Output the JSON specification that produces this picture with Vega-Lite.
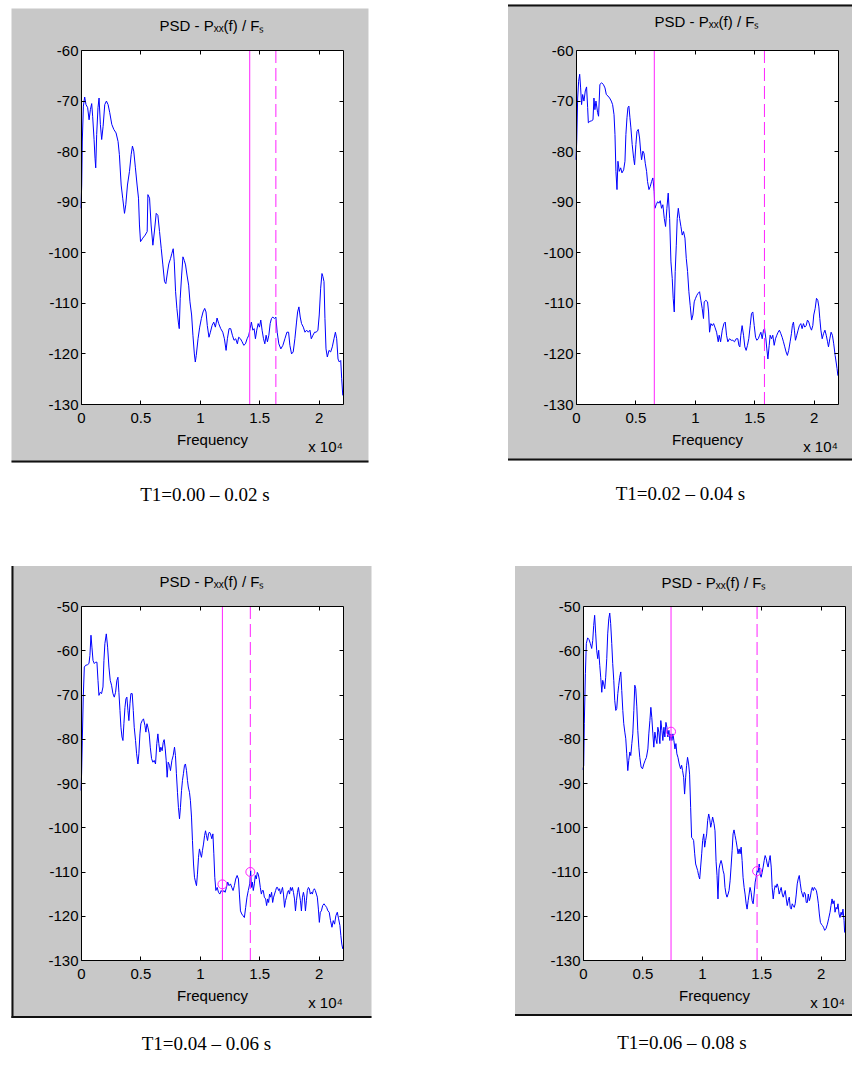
{
  "$schema": "https://vega.github.io/schema/vega-lite/v6.json",
  "background": "white",
  "padding": {"left": 10, "top": 4, "right": 0, "bottom": 0},
  "config": {
    "view": {"stroke": null},
    "axis": {"grid": false, "domainColor": "#000000", "domainWidth": 1, "tickColor": "#000000", "tickWidth": 1, "tickSize": -4, "labelFont": "Liberation Sans", "labelFontSize": 15, "labelColor": "#000000", "labelFlush": false, "labelOverlap": false, "titleFont": "Liberation Sans", "titleFontSize": 15, "titleFontWeight": "normal", "titleColor": "#000000", "zindex": 1},
    "axisBottom": {"labelPadding": 10, "titlePadding": 7},
    "axisLeft": {"labelPadding": 7}
  },
  "datasets": {
    "p1": [
      {"f":0,"v":-91.3},{"f":0.006,"v":-86.7},{"f":0.011,"v":-78},{"f":0.02,"v":-71.1},{"f":0.031,"v":-69.3},{"f":0.042,"v":-70.8},{"f":0.056,"v":-71.4},{"f":0.068,"v":-73.8},{"f":0.079,"v":-71.8},{"f":0.09,"v":-70.6},{"f":0.098,"v":-73.1},{"f":0.11,"v":-77.7},{"f":0.118,"v":-81.4},{"f":0.124,"v":-83.3},{"f":0.132,"v":-76.7},{"f":0.143,"v":-71.4},{"f":0.152,"v":-69.5},{"f":0.163,"v":-74.7},{"f":0.174,"v":-77.7},{"f":0.186,"v":-75.1},{"f":0.2,"v":-70.8},{"f":0.214,"v":-70.1},{"f":0.228,"v":-70.8},{"f":0.242,"v":-72.4},{"f":0.259,"v":-74.7},{"f":0.276,"v":-75.7},{"f":0.295,"v":-76.4},{"f":0.312,"v":-78.1},{"f":0.323,"v":-80.7},{"f":0.338,"v":-86.7},{"f":0.351,"v":-89.3},{"f":0.366,"v":-92.3},{"f":0.377,"v":-90.6},{"f":0.391,"v":-86.7},{"f":0.408,"v":-84},{"f":0.422,"v":-80.7},{"f":0.433,"v":-79},{"f":0.444,"v":-80},{"f":0.458,"v":-83.3},{"f":0.472,"v":-86.7},{"f":0.484,"v":-89.3},{"f":0.492,"v":-94.6},{"f":0.501,"v":-97.9},{"f":0.52,"v":-97.2},{"f":0.54,"v":-96.6},{"f":0.557,"v":-95.9},{"f":0.563,"v":-88.6},{"f":0.577,"v":-89.3},{"f":0.59,"v":-94.6},{"f":0.605,"v":-98.6},{"f":0.619,"v":-95.6},{"f":0.633,"v":-92.3},{"f":0.647,"v":-92.7},{"f":0.661,"v":-95.9},{"f":0.675,"v":-99.2},{"f":0.689,"v":-102.5},{"f":0.703,"v":-105.8},{"f":0.714,"v":-106.2},{"f":0.728,"v":-103.9},{"f":0.739,"v":-102.3},{"f":0.754,"v":-101.2},{"f":0.765,"v":-100.2},{"f":0.776,"v":-99.3},{"f":0.785,"v":-101.9},{"f":0.796,"v":-107.8},{"f":0.807,"v":-111.1},{"f":0.819,"v":-113.8},{"f":0.827,"v":-115.1},{"f":0.835,"v":-109.1},{"f":0.847,"v":-104.5},{"f":0.858,"v":-100.9},{"f":0.869,"v":-101.6},{"f":0.88,"v":-102.5},{"f":0.892,"v":-104.5},{"f":0.906,"v":-106.5},{"f":0.917,"v":-109.8},{"f":0.931,"v":-112.4},{"f":0.942,"v":-116.4},{"f":0.954,"v":-120.1},{"f":0.962,"v":-121.7},{"f":0.97,"v":-120.4},{"f":0.985,"v":-117.1},{"f":0.999,"v":-114.8},{"f":1.013,"v":-113.1},{"f":1.027,"v":-111.8},{"f":1.041,"v":-111.1},{"f":1.052,"v":-111.8},{"f":1.063,"v":-114.5},{"f":1.077,"v":-116.8},{"f":1.089,"v":-115.8},{"f":1.103,"v":-114.5},{"f":1.117,"v":-113.8},{"f":1.131,"v":-114.8},{"f":1.145,"v":-113},{"f":1.159,"v":-114.1},{"f":1.176,"v":-115.1},{"f":1.193,"v":-115.8},{"f":1.207,"v":-117.1},{"f":1.221,"v":-119.4},{"f":1.232,"v":-117.1},{"f":1.246,"v":-115.1},{"f":1.26,"v":-115.1},{"f":1.274,"v":-116.4},{"f":1.288,"v":-117.4},{"f":1.302,"v":-117.1},{"f":1.316,"v":-118.1},{"f":1.327,"v":-116.8},{"f":1.342,"v":-117.1},{"f":1.356,"v":-117.7},{"f":1.37,"v":-118.4},{"f":1.384,"v":-118.1},{"f":1.398,"v":-117.1},{"f":1.412,"v":-116.4},{"f":1.423,"v":-115.1},{"f":1.434,"v":-113.8},{"f":1.446,"v":-115.4},{"f":1.457,"v":-115.1},{"f":1.468,"v":-117.1},{"f":1.479,"v":-115.4},{"f":1.491,"v":-114.1},{"f":1.502,"v":-114.8},{"f":1.513,"v":-113.4},{"f":1.524,"v":-115.4},{"f":1.536,"v":-117.1},{"f":1.547,"v":-118.1},{"f":1.558,"v":-116.4},{"f":1.569,"v":-117.7},{"f":1.581,"v":-116.4},{"f":1.592,"v":-114.1},{"f":1.603,"v":-113.1},{"f":1.614,"v":-112.8},{"f":1.628,"v":-113.1},{"f":1.64,"v":-112.8},{"f":1.651,"v":-115.8},{"f":1.665,"v":-118.1},{"f":1.682,"v":-119.1},{"f":1.699,"v":-118.4},{"f":1.716,"v":-117.1},{"f":1.733,"v":-115.8},{"f":1.747,"v":-115.8},{"f":1.758,"v":-118.4},{"f":1.772,"v":-120.1},{"f":1.786,"v":-119.7},{"f":1.8,"v":-117.1},{"f":1.814,"v":-113.8},{"f":1.823,"v":-111.8},{"f":1.834,"v":-110.8},{"f":1.845,"v":-112.8},{"f":1.856,"v":-114.1},{"f":1.871,"v":-114.8},{"f":1.885,"v":-115.8},{"f":1.899,"v":-115.4},{"f":1.913,"v":-115.8},{"f":1.927,"v":-115.4},{"f":1.938,"v":-117.1},{"f":1.952,"v":-116.4},{"f":1.966,"v":-115.8},{"f":1.98,"v":-115.8},{"f":1.994,"v":-115.4},{"f":2.005,"v":-112.4},{"f":2.017,"v":-107.1},{"f":2.028,"v":-104.2},{"f":2.036,"v":-104.8},{"f":2.045,"v":-105.8},{"f":2.053,"v":-113.1},{"f":2.062,"v":-119.1},{"f":2.073,"v":-120.7},{"f":2.087,"v":-119.4},{"f":2.101,"v":-119.7},{"f":2.115,"v":-118.7},{"f":2.129,"v":-117.1},{"f":2.141,"v":-115.8},{"f":2.152,"v":-117.1},{"f":2.163,"v":-121.1},{"f":2.174,"v":-121.7},{"f":2.186,"v":-121.4},{"f":2.194,"v":-125},{"f":2.203,"v":-128.3}
    ],
    "p2": [
      {"f":0,"v":-81.7},{"f":0.006,"v":-78.1},{"f":0.014,"v":-69.5},{"f":0.022,"v":-66.2},{"f":0.031,"v":-64.8},{"f":0.039,"v":-67.5},{"f":0.047,"v":-70.8},{"f":0.056,"v":-68.8},{"f":0.067,"v":-70.1},{"f":0.078,"v":-68.1},{"f":0.089,"v":-67.3},{"f":0.098,"v":-71.4},{"f":0.104,"v":-74.4},{"f":0.117,"v":-74.1},{"f":0.131,"v":-74},{"f":0.143,"v":-73.8},{"f":0.151,"v":-69.5},{"f":0.159,"v":-71.8},{"f":0.168,"v":-70.1},{"f":0.182,"v":-72.4},{"f":0.19,"v":-73.1},{"f":0.201,"v":-66.8},{"f":0.216,"v":-66.5},{"f":0.23,"v":-66.8},{"f":0.244,"v":-67.5},{"f":0.255,"v":-68.8},{"f":0.269,"v":-69.1},{"f":0.283,"v":-69.5},{"f":0.297,"v":-70.1},{"f":0.308,"v":-70.8},{"f":0.32,"v":-72.8},{"f":0.328,"v":-76.7},{"f":0.336,"v":-84},{"f":0.345,"v":-87.6},{"f":0.353,"v":-82},{"f":0.364,"v":-84},{"f":0.376,"v":-83.3},{"f":0.387,"v":-84.3},{"f":0.401,"v":-83.7},{"f":0.412,"v":-82},{"f":0.42,"v":-76.7},{"f":0.429,"v":-73.4},{"f":0.437,"v":-71.4},{"f":0.445,"v":-71.1},{"f":0.454,"v":-73.4},{"f":0.462,"v":-75.4},{"f":0.473,"v":-78.7},{"f":0.485,"v":-81.4},{"f":0.493,"v":-82.7},{"f":0.504,"v":-78.7},{"f":0.513,"v":-76.1},{"f":0.524,"v":-75.7},{"f":0.535,"v":-77.4},{"f":0.544,"v":-80},{"f":0.552,"v":-81.7},{"f":0.563,"v":-80},{"f":0.572,"v":-80.4},{"f":0.583,"v":-82.4},{"f":0.594,"v":-84},{"f":0.602,"v":-86},{"f":0.614,"v":-87.6},{"f":0.625,"v":-87},{"f":0.636,"v":-86},{"f":0.647,"v":-85.3},{"f":0.658,"v":-88},{"f":0.664,"v":-91.3},{"f":0.675,"v":-90.6},{"f":0.687,"v":-90},{"f":0.698,"v":-90.3},{"f":0.709,"v":-89.8},{"f":0.72,"v":-91.3},{"f":0.731,"v":-90.6},{"f":0.743,"v":-93.3},{"f":0.754,"v":-94.9},{"f":0.765,"v":-91.3},{"f":0.776,"v":-88.3},{"f":0.788,"v":-93.3},{"f":0.799,"v":-101.9},{"f":0.81,"v":-105.2},{"f":0.818,"v":-109.1},{"f":0.827,"v":-111.8},{"f":0.835,"v":-103.8},{"f":0.844,"v":-98.6},{"f":0.852,"v":-93.3},{"f":0.861,"v":-91.3},{"f":0.872,"v":-93.3},{"f":0.883,"v":-94.9},{"f":0.894,"v":-96.6},{"f":0.905,"v":-95.9},{"f":0.917,"v":-97.2},{"f":0.928,"v":-101.2},{"f":0.939,"v":-103.8},{"f":0.95,"v":-107.8},{"f":0.961,"v":-110.5},{"f":0.973,"v":-113.4},{"f":0.984,"v":-112.4},{"f":0.995,"v":-109.8},{"f":1.006,"v":-109.1},{"f":1.017,"v":-108.5},{"f":1.028,"v":-108.1},{"f":1.04,"v":-107.8},{"f":1.051,"v":-109.5},{"f":1.062,"v":-111.1},{"f":1.073,"v":-113.1},{"f":1.079,"v":-109.8},{"f":1.093,"v":-109.5},{"f":1.107,"v":-109.8},{"f":1.116,"v":-111.8},{"f":1.124,"v":-115.8},{"f":1.135,"v":-114.1},{"f":1.147,"v":-114.5},{"f":1.158,"v":-114.1},{"f":1.169,"v":-114.8},{"f":1.183,"v":-115.8},{"f":1.197,"v":-117.7},{"f":1.205,"v":-116.4},{"f":1.217,"v":-117.7},{"f":1.231,"v":-115.4},{"f":1.245,"v":-114.1},{"f":1.256,"v":-113.8},{"f":1.267,"v":-116.4},{"f":1.278,"v":-117.7},{"f":1.292,"v":-117.1},{"f":1.306,"v":-117.4},{"f":1.32,"v":-117.4},{"f":1.334,"v":-117.7},{"f":1.348,"v":-117.1},{"f":1.362,"v":-117.1},{"f":1.371,"v":-118.4},{"f":1.379,"v":-118.7},{"f":1.387,"v":-116.4},{"f":1.398,"v":-114.5},{"f":1.41,"v":-116.4},{"f":1.421,"v":-118.7},{"f":1.432,"v":-119.4},{"f":1.443,"v":-118.4},{"f":1.454,"v":-117.1},{"f":1.466,"v":-114.5},{"f":1.477,"v":-112.1},{"f":1.488,"v":-111.8},{"f":1.5,"v":-114.5},{"f":1.511,"v":-116.8},{"f":1.522,"v":-117.4},{"f":1.534,"v":-117.1},{"f":1.545,"v":-116.4},{"f":1.556,"v":-115.8},{"f":1.567,"v":-117.1},{"f":1.578,"v":-115.4},{"f":1.587,"v":-115.1},{"f":1.598,"v":-117.1},{"f":1.606,"v":-119.1},{"f":1.615,"v":-121.1},{"f":1.626,"v":-118.4},{"f":1.634,"v":-116.4},{"f":1.645,"v":-117.1},{"f":1.656,"v":-116.4},{"f":1.668,"v":-118.4},{"f":1.679,"v":-117.1},{"f":1.69,"v":-116.4},{"f":1.701,"v":-115.8},{"f":1.712,"v":-115.4},{"f":1.724,"v":-116.1},{"f":1.735,"v":-116.8},{"f":1.746,"v":-117.7},{"f":1.757,"v":-118.7},{"f":1.768,"v":-119.7},{"f":1.779,"v":-120.4},{"f":1.79,"v":-119.4},{"f":1.802,"v":-117.7},{"f":1.813,"v":-116.1},{"f":1.821,"v":-114.5},{"f":1.83,"v":-113.8},{"f":1.838,"v":-115.4},{"f":1.847,"v":-117.4},{"f":1.858,"v":-116.4},{"f":1.869,"v":-115.4},{"f":1.88,"v":-114.5},{"f":1.892,"v":-114.1},{"f":1.903,"v":-115.1},{"f":1.914,"v":-114.1},{"f":1.925,"v":-114.8},{"f":1.937,"v":-114.5},{"f":1.948,"v":-113.4},{"f":1.959,"v":-113.8},{"f":1.971,"v":-114.8},{"f":1.982,"v":-115.4},{"f":1.993,"v":-114.5},{"f":2.001,"v":-112.4},{"f":2.013,"v":-111.1},{"f":2.024,"v":-109.1},{"f":2.035,"v":-109.5},{"f":2.044,"v":-110.8},{"f":2.052,"v":-113.1},{"f":2.061,"v":-115.4},{"f":2.072,"v":-117.1},{"f":2.083,"v":-116.1},{"f":2.095,"v":-115.4},{"f":2.106,"v":-116.4},{"f":2.117,"v":-117.7},{"f":2.125,"v":-118.7},{"f":2.136,"v":-117.1},{"f":2.147,"v":-115.8},{"f":2.158,"v":-116.4},{"f":2.169,"v":-118.1},{"f":2.181,"v":-120.4},{"f":2.189,"v":-121.7},{"f":2.197,"v":-123},{"f":2.204,"v":-124.4}
    ],
    "p3": [
      {"f":0,"v":-91.7},{"f":0.005,"v":-87.9},{"f":0.011,"v":-80.4},{"f":0.019,"v":-70.6},{"f":0.028,"v":-63.8},{"f":0.039,"v":-63.4},{"f":0.053,"v":-63.3},{"f":0.067,"v":-63},{"f":0.075,"v":-61.2},{"f":0.084,"v":-56.6},{"f":0.092,"v":-59.3},{"f":0.101,"v":-62.3},{"f":0.112,"v":-63},{"f":0.123,"v":-62.7},{"f":0.134,"v":-62.7},{"f":0.143,"v":-66.8},{"f":0.151,"v":-70.2},{"f":0.162,"v":-69.5},{"f":0.173,"v":-69.8},{"f":0.185,"v":-68.3},{"f":0.193,"v":-62.3},{"f":0.201,"v":-58.5},{"f":0.213,"v":-56.3},{"f":0.224,"v":-59.3},{"f":0.235,"v":-63.8},{"f":0.246,"v":-66.8},{"f":0.257,"v":-67.9},{"f":0.269,"v":-69.8},{"f":0.28,"v":-70.6},{"f":0.291,"v":-69.5},{"f":0.302,"v":-66.8},{"f":0.311,"v":-66.1},{"f":0.319,"v":-69.5},{"f":0.328,"v":-73.6},{"f":0.336,"v":-77.4},{"f":0.345,"v":-79.6},{"f":0.353,"v":-80.4},{"f":0.361,"v":-76.6},{"f":0.37,"v":-72.9},{"f":0.378,"v":-71},{"f":0.386,"v":-70.6},{"f":0.395,"v":-73.6},{"f":0.403,"v":-75.9},{"f":0.412,"v":-72.1},{"f":0.42,"v":-69.8},{"f":0.431,"v":-69.8},{"f":0.44,"v":-73.6},{"f":0.448,"v":-77.4},{"f":0.459,"v":-80.4},{"f":0.468,"v":-83.4},{"f":0.479,"v":-85.7},{"f":0.487,"v":-83.4},{"f":0.496,"v":-78.9},{"f":0.504,"v":-76.6},{"f":0.515,"v":-75.9},{"f":0.526,"v":-75.5},{"f":0.538,"v":-77},{"f":0.546,"v":-78.5},{"f":0.555,"v":-76.6},{"f":0.563,"v":-77.4},{"f":0.574,"v":-78.9},{"f":0.583,"v":-81.9},{"f":0.594,"v":-84.5},{"f":0.605,"v":-85.3},{"f":0.616,"v":-84.9},{"f":0.627,"v":-85.7},{"f":0.638,"v":-81.1},{"f":0.647,"v":-78.9},{"f":0.655,"v":-81.1},{"f":0.664,"v":-83},{"f":0.672,"v":-81.9},{"f":0.683,"v":-82.7},{"f":0.692,"v":-80.8},{"f":0.7,"v":-80.2},{"f":0.709,"v":-82.3},{"f":0.717,"v":-84.9},{"f":0.725,"v":-88.7},{"f":0.734,"v":-85.3},{"f":0.745,"v":-86},{"f":0.753,"v":-87.2},{"f":0.765,"v":-84.9},{"f":0.776,"v":-83.8},{"f":0.787,"v":-81.9},{"f":0.795,"v":-83.8},{"f":0.803,"v":-87.9},{"f":0.812,"v":-92.1},{"f":0.82,"v":-95.5},{"f":0.829,"v":-98.1},{"f":0.837,"v":-95.5},{"f":0.846,"v":-91.7},{"f":0.854,"v":-89.4},{"f":0.862,"v":-87.9},{"f":0.871,"v":-86},{"f":0.879,"v":-85.7},{"f":0.888,"v":-87.2},{"f":0.896,"v":-89.4},{"f":0.903,"v":-90.9},{"f":0.913,"v":-92.1},{"f":0.921,"v":-94},{"f":0.93,"v":-97.7},{"f":0.938,"v":-103},{"f":0.947,"v":-108.3},{"f":0.955,"v":-111.3},{"f":0.964,"v":-112.4},{"f":0.972,"v":-113.2},{"f":0.98,"v":-110.6},{"f":0.989,"v":-106.8},{"f":0.997,"v":-104.9},{"f":1.006,"v":-106},{"f":1.014,"v":-106.8},{"f":1.022,"v":-105.3},{"f":1.031,"v":-103.8},{"f":1.04,"v":-101.9},{"f":1.048,"v":-100.8},{"f":1.056,"v":-101.9},{"f":1.065,"v":-103},{"f":1.073,"v":-101.5},{"f":1.081,"v":-101.1},{"f":1.09,"v":-101.5},{"f":1.101,"v":-102.6},{"f":1.11,"v":-101.5},{"f":1.118,"v":-106},{"f":1.126,"v":-111.3},{"f":1.135,"v":-114.3},{"f":1.146,"v":-113.6},{"f":1.157,"v":-114.7},{"f":1.168,"v":-115.1},{"f":1.18,"v":-114.3},{"f":1.191,"v":-114.7},{"f":1.202,"v":-114.3},{"f":1.213,"v":-114.7},{"f":1.224,"v":-113.6},{"f":1.235,"v":-112.4},{"f":1.246,"v":-113.2},{"f":1.258,"v":-112.8},{"f":1.269,"v":-113.6},{"f":1.28,"v":-114.3},{"f":1.291,"v":-113.2},{"f":1.302,"v":-111.7},{"f":1.314,"v":-110.9},{"f":1.325,"v":-111.7},{"f":1.333,"v":-115.1},{"f":1.342,"v":-118.9},{"f":1.353,"v":-119.6},{"f":1.364,"v":-120},{"f":1.375,"v":-120.4},{"f":1.386,"v":-118.1},{"f":1.397,"v":-115.8},{"f":1.408,"v":-114.3},{"f":1.42,"v":-112.8},{"f":1.428,"v":-109.8},{"f":1.434,"v":-113.6},{"f":1.442,"v":-112.4},{"f":1.45,"v":-114.3},{"f":1.459,"v":-112.8},{"f":1.467,"v":-110.9},{"f":1.475,"v":-111.7},{"f":1.484,"v":-110.2},{"f":1.492,"v":-110.6},{"f":1.5,"v":-111.7},{"f":1.509,"v":-113.6},{"f":1.518,"v":-115.1},{"f":1.526,"v":-114.3},{"f":1.534,"v":-114.3},{"f":1.543,"v":-115.8},{"f":1.554,"v":-116.2},{"f":1.562,"v":-117.7},{"f":1.571,"v":-116.2},{"f":1.579,"v":-117},{"f":1.587,"v":-115.1},{"f":1.596,"v":-115.8},{"f":1.604,"v":-114.7},{"f":1.613,"v":-117},{"f":1.621,"v":-115.8},{"f":1.629,"v":-115.1},{"f":1.638,"v":-114.3},{"f":1.646,"v":-113.6},{"f":1.654,"v":-113.6},{"f":1.663,"v":-114.3},{"f":1.671,"v":-113.9},{"f":1.679,"v":-115.1},{"f":1.688,"v":-114.3},{"f":1.696,"v":-113.6},{"f":1.704,"v":-115.1},{"f":1.713,"v":-118.1},{"f":1.721,"v":-116.6},{"f":1.73,"v":-115.8},{"f":1.738,"v":-114.7},{"f":1.746,"v":-114.3},{"f":1.755,"v":-115.1},{"f":1.763,"v":-113.6},{"f":1.771,"v":-114.3},{"f":1.779,"v":-113.6},{"f":1.788,"v":-114.7},{"f":1.797,"v":-116.2},{"f":1.805,"v":-118.9},{"f":1.813,"v":-116.6},{"f":1.822,"v":-114.7},{"f":1.83,"v":-113.6},{"f":1.838,"v":-115.1},{"f":1.847,"v":-116.6},{"f":1.855,"v":-118.9},{"f":1.864,"v":-115.8},{"f":1.872,"v":-114.7},{"f":1.88,"v":-115.8},{"f":1.889,"v":-118.9},{"f":1.897,"v":-116.6},{"f":1.905,"v":-114.3},{"f":1.914,"v":-113.6},{"f":1.922,"v":-113.9},{"f":1.93,"v":-115.1},{"f":1.939,"v":-114.7},{"f":1.947,"v":-115.1},{"f":1.955,"v":-114.3},{"f":1.964,"v":-113.9},{"f":1.972,"v":-114.3},{"f":1.981,"v":-115.1},{"f":1.989,"v":-115.8},{"f":1.998,"v":-118.5},{"f":2.006,"v":-121.5},{"f":2.014,"v":-119.2},{"f":2.023,"v":-118.9},{"f":2.034,"v":-117.7},{"f":2.045,"v":-117.3},{"f":2.056,"v":-117.7},{"f":2.067,"v":-118.1},{"f":2.078,"v":-118.9},{"f":2.089,"v":-119.2},{"f":2.1,"v":-121.1},{"f":2.112,"v":-122.6},{"f":2.123,"v":-121.1},{"f":2.134,"v":-121.9},{"f":2.145,"v":-120},{"f":2.157,"v":-119.2},{"f":2.168,"v":-120.7},{"f":2.179,"v":-122.2},{"f":2.187,"v":-124.5},{"f":2.195,"v":-126.4},{"f":2.203,"v":-127.5}
    ],
    "p4": [
      {"f":0,"v":-87},{"f":0.006,"v":-86},{"f":0.011,"v":-76.6},{"f":0.02,"v":-65.3},{"f":0.028,"v":-58.5},{"f":0.039,"v":-57.2},{"f":0.051,"v":-57.6},{"f":0.062,"v":-58.5},{"f":0.073,"v":-59.6},{"f":0.082,"v":-57.8},{"f":0.09,"v":-54.4},{"f":0.098,"v":-52.1},{"f":0.107,"v":-56.3},{"f":0.115,"v":-60},{"f":0.124,"v":-61.9},{"f":0.132,"v":-60},{"f":0.141,"v":-63.4},{"f":0.149,"v":-66.1},{"f":0.158,"v":-69.5},{"f":0.166,"v":-66.8},{"f":0.174,"v":-67.6},{"f":0.183,"v":-68.7},{"f":0.191,"v":-66.1},{"f":0.2,"v":-61.9},{"f":0.208,"v":-56.3},{"f":0.217,"v":-52.9},{"f":0.225,"v":-51.6},{"f":0.233,"v":-54},{"f":0.242,"v":-58.5},{"f":0.25,"v":-63},{"f":0.259,"v":-66.8},{"f":0.267,"v":-71.3},{"f":0.276,"v":-73.6},{"f":0.284,"v":-73.2},{"f":0.293,"v":-69.8},{"f":0.301,"v":-67.9},{"f":0.309,"v":-66.1},{"f":0.318,"v":-64.9},{"f":0.326,"v":-69.1},{"f":0.335,"v":-73.6},{"f":0.343,"v":-76.6},{"f":0.352,"v":-78.5},{"f":0.36,"v":-80},{"f":0.368,"v":-83.4},{"f":0.377,"v":-87.2},{"f":0.385,"v":-84.9},{"f":0.394,"v":-83},{"f":0.402,"v":-83.8},{"f":0.411,"v":-81.1},{"f":0.419,"v":-78.9},{"f":0.428,"v":-73.6},{"f":0.436,"v":-67.9},{"f":0.444,"v":-68.7},{"f":0.453,"v":-72.8},{"f":0.461,"v":-78.1},{"f":0.47,"v":-81.9},{"f":0.478,"v":-84.2},{"f":0.489,"v":-86.4},{"f":0.501,"v":-86.8},{"f":0.512,"v":-85.7},{"f":0.523,"v":-84.9},{"f":0.534,"v":-84.2},{"f":0.546,"v":-82.3},{"f":0.554,"v":-78.9},{"f":0.563,"v":-75.9},{"f":0.571,"v":-72.9},{"f":0.579,"v":-75.2},{"f":0.588,"v":-78.9},{"f":0.596,"v":-81.9},{"f":0.605,"v":-78.5},{"f":0.613,"v":-80},{"f":0.622,"v":-81.1},{"f":0.63,"v":-77.4},{"f":0.638,"v":-78.5},{"f":0.647,"v":-81.1},{"f":0.655,"v":-75.9},{"f":0.664,"v":-78.1},{"f":0.672,"v":-80.4},{"f":0.681,"v":-77.4},{"f":0.689,"v":-79.6},{"f":0.698,"v":-76.3},{"f":0.706,"v":-77.4},{"f":0.714,"v":-79.6},{"f":0.723,"v":-78.1},{"f":0.731,"v":-80.4},{"f":0.74,"v":-78.9},{"f":0.748,"v":-80.4},{"f":0.757,"v":-78.9},{"f":0.765,"v":-80.4},{"f":0.774,"v":-82.3},{"f":0.782,"v":-81.1},{"f":0.79,"v":-83.4},{"f":0.799,"v":-84.2},{"f":0.81,"v":-85.7},{"f":0.821,"v":-86.8},{"f":0.83,"v":-86},{"f":0.838,"v":-87.2},{"f":0.847,"v":-88.7},{"f":0.855,"v":-92.5},{"f":0.864,"v":-88.7},{"f":0.872,"v":-86},{"f":0.88,"v":-84.2},{"f":0.889,"v":-85.7},{"f":0.897,"v":-88},{"f":0.906,"v":-95.5},{"f":0.914,"v":-102.3},{"f":0.923,"v":-102.6},{"f":0.931,"v":-103},{"f":0.94,"v":-106},{"f":0.948,"v":-108.3},{"f":0.956,"v":-109},{"f":0.965,"v":-109.8},{"f":0.973,"v":-110.9},{"f":0.982,"v":-111.7},{"f":0.99,"v":-109},{"f":0.999,"v":-106},{"f":1.007,"v":-103},{"f":1.016,"v":-101.5},{"f":1.024,"v":-104.5},{"f":1.032,"v":-103},{"f":1.041,"v":-101.5},{"f":1.049,"v":-98.5},{"f":1.058,"v":-97},{"f":1.066,"v":-98.1},{"f":1.075,"v":-100},{"f":1.083,"v":-98.9},{"f":1.091,"v":-97.7},{"f":1.103,"v":-99.2},{"f":1.111,"v":-100.8},{"f":1.12,"v":-107.8},{"f":1.128,"v":-110.9},{"f":1.136,"v":-116.2},{"f":1.145,"v":-109.4},{"f":1.153,"v":-108.3},{"f":1.162,"v":-107.5},{"f":1.17,"v":-108.3},{"f":1.179,"v":-109.8},{"f":1.187,"v":-110.6},{"f":1.195,"v":-113.6},{"f":1.204,"v":-115.1},{"f":1.212,"v":-115.8},{"f":1.221,"v":-115.1},{"f":1.229,"v":-114.3},{"f":1.238,"v":-112.1},{"f":1.246,"v":-109},{"f":1.255,"v":-105.3},{"f":1.263,"v":-101.5},{"f":1.271,"v":-100.6},{"f":1.28,"v":-101.9},{"f":1.288,"v":-103},{"f":1.297,"v":-104.5},{"f":1.305,"v":-106},{"f":1.314,"v":-104.9},{"f":1.322,"v":-106},{"f":1.331,"v":-104.5},{"f":1.339,"v":-107.5},{"f":1.347,"v":-111.3},{"f":1.356,"v":-113.6},{"f":1.364,"v":-115.1},{"f":1.373,"v":-117.3},{"f":1.381,"v":-118.5},{"f":1.39,"v":-116.6},{"f":1.398,"v":-115.1},{"f":1.406,"v":-113.6},{"f":1.415,"v":-114.7},{"f":1.423,"v":-116.6},{"f":1.432,"v":-117.3},{"f":1.44,"v":-115.1},{"f":1.449,"v":-112.4},{"f":1.457,"v":-111.3},{"f":1.466,"v":-109.8},{"f":1.474,"v":-110.2},{"f":1.483,"v":-108.3},{"f":1.491,"v":-110.6},{"f":1.499,"v":-111.3},{"f":1.508,"v":-110.2},{"f":1.516,"v":-109},{"f":1.525,"v":-107.5},{"f":1.533,"v":-106.4},{"f":1.542,"v":-107.1},{"f":1.55,"v":-108.3},{"f":1.558,"v":-109},{"f":1.567,"v":-107.5},{"f":1.575,"v":-106.4},{"f":1.584,"v":-109},{"f":1.592,"v":-113.6},{"f":1.601,"v":-116.2},{"f":1.609,"v":-114.3},{"f":1.617,"v":-113.2},{"f":1.626,"v":-113.6},{"f":1.634,"v":-112.8},{"f":1.643,"v":-113.6},{"f":1.651,"v":-115.1},{"f":1.66,"v":-114.3},{"f":1.668,"v":-113.6},{"f":1.677,"v":-115.1},{"f":1.685,"v":-115.8},{"f":1.693,"v":-115.1},{"f":1.702,"v":-114.3},{"f":1.711,"v":-116.2},{"f":1.719,"v":-117.7},{"f":1.727,"v":-116.6},{"f":1.736,"v":-115.8},{"f":1.744,"v":-118.1},{"f":1.753,"v":-118.5},{"f":1.761,"v":-117.3},{"f":1.769,"v":-117.7},{"f":1.778,"v":-118.1},{"f":1.786,"v":-117.3},{"f":1.795,"v":-115.1},{"f":1.803,"v":-112.8},{"f":1.811,"v":-111.7},{"f":1.82,"v":-110.9},{"f":1.829,"v":-112.8},{"f":1.837,"v":-114.3},{"f":1.845,"v":-115.1},{"f":1.854,"v":-115.8},{"f":1.862,"v":-114.7},{"f":1.871,"v":-115.1},{"f":1.879,"v":-117},{"f":1.888,"v":-117},{"f":1.896,"v":-115.1},{"f":1.905,"v":-116.6},{"f":1.913,"v":-115.8},{"f":1.922,"v":-114.3},{"f":1.93,"v":-113.6},{"f":1.938,"v":-114.3},{"f":1.947,"v":-113.6},{"f":1.955,"v":-113.9},{"f":1.964,"v":-114.3},{"f":1.972,"v":-115.5},{"f":1.981,"v":-117.3},{"f":1.989,"v":-119.6},{"f":1.998,"v":-121.5},{"f":2.006,"v":-121.9},{"f":2.015,"v":-122.2},{"f":2.024,"v":-122.6},{"f":2.034,"v":-123.3},{"f":2.045,"v":-122.9},{"f":2.057,"v":-121.9},{"f":2.067,"v":-120.7},{"f":2.079,"v":-119.2},{"f":2.087,"v":-117.7},{"f":2.096,"v":-116.2},{"f":2.104,"v":-117.3},{"f":2.113,"v":-116.6},{"f":2.121,"v":-119.2},{"f":2.13,"v":-118.1},{"f":2.138,"v":-118.5},{"f":2.146,"v":-117.3},{"f":2.155,"v":-119.6},{"f":2.163,"v":-120.4},{"f":2.172,"v":-119.2},{"f":2.18,"v":-119.9},{"f":2.188,"v":-118.5},{"f":2.197,"v":-121.1},{"f":2.202,"v":-123.8}
    ],
    "cursors": [
      {"panel":1,"style":"solid","f":1.42},{"panel":1,"style":"dashed","f":1.64},
      {"panel":2,"style":"solid","f":0.659},{"panel":2,"style":"dashed","f":1.586},
      {"panel":3,"style":"solid","f":1.19},{"panel":3,"style":"dashed","f":1.425},
      {"panel":4,"style":"solid","f":0.741},{"panel":4,"style":"dashed","f":1.465}
    ],
    "circles": [
      {"panel":3,"f":1.19,"v":-112.9},{"panel":3,"f":1.425,"v":-110.1},
      {"panel":4,"f":0.741,"v":-78.4},{"panel":4,"f":1.465,"v":-109.9}
    ]
  },
  "spacing": 59,
  "vconcat": [
    {
      "spacing": 136,
      "hconcat": [
        {
          "title": {"text": "T1=0.00 – 0.02 s", "orient": "bottom", "anchor": "middle", "offset": 38, "dx": 15, "baseline": "alphabetic", "font": "Liberation Serif", "fontSize": 19, "fontWeight": "normal", "color": "#000000"},
          "vconcat": [
            {
              "width": 262, "height": 354,
              "title": {"text": "PSD - Pₓₓ(f) / Fₛ", "frame": "group", "anchor": "middle", "offset": -37, "baseline": "alphabetic", "zindex": 1, "font": "Liberation Sans", "fontSize": 15, "fontWeight": "normal", "color": "#000000"},
              "resolve": {"axis": {"x": "independent", "y": "independent"}},
              "layer": [
                {"data": {"values": [{}]}, "mark": {"type": "rect", "color": "#c8c8c8"}, "encoding": {"x": {"datum": -0.5849, "type": "quantitative", "scale": {"domain": [0, 2.205], "nice": false, "zero": false}, "axis": null}, "x2": {"datum": 2.4196}, "y": {"datum": -51.794, "type": "quantitative", "scale": {"domain": [-130, -60], "nice": false, "zero": false}, "axis": null}, "y2": {"datum": -141.568}}},
                {"data": {"values": [{}]}, "mark": {"type": "rule", "color": "#111111", "strokeWidth": 2}, "encoding": {"x": {"datum": -0.5849, "type": "quantitative", "axis": null}, "x2": {"datum": 2.4196}, "y": {"datum": -141.37, "type": "quantitative", "axis": null}}},
                {"data": {"values": [{}]}, "mark": {"type": "rect", "color": "#ffffff"}, "encoding": {"x": {"datum": 0, "type": "quantitative", "axis": {"orient": "top", "values": [0.5, 1, 1.5, 2], "labels": false, "title": null, "zindex": 1}}, "x2": {"datum": 2.205}, "y": {"datum": -60, "type": "quantitative", "axis": {"orient": "right", "values": [-120, -110, -100, -90, -80, -70], "labels": false, "title": null, "zindex": 1}}, "y2": {"datum": -130}}},
                {"data": {"name": "p1"}, "mark": {"type": "line", "color": "#0000ff", "strokeWidth": 1}, "encoding": {"x": {"field": "f", "type": "quantitative", "axis": {"orient": "bottom", "values": [0, 0.5, 1, 1.5, 2], "labelExpr": "datum.value + ''", "title": "Frequency", "zindex": 1}}, "y": {"field": "v", "type": "quantitative", "axis": {"orient": "left", "values": [-130, -120, -110, -100, -90, -80, -70, -60], "labelExpr": "datum.value + ''", "title": null, "zindex": 1}}}},
                {"data": {"name": "cursors"}, "transform": [{"filter": "datum.panel == 1"}], "mark": {"type": "rule", "color": "#ff22ff", "strokeWidth": 1}, "encoding": {"x": {"field": "f", "type": "quantitative", "axis": null}, "strokeDash": {"field": "style", "type": "nominal", "scale": {"domain": ["solid", "dashed"], "range": [[1, 0], [13, 5]]}, "legend": null}}},
                {"data": {"values": [{}]}, "mark": {"type": "text", "text": "x 10⁴", "align": "right", "baseline": "alphabetic", "dy": 48, "font": "Liberation Sans", "fontSize": 15, "color": "#000000"}, "encoding": {"x": {"datum": 2.205, "type": "quantitative", "axis": null}, "y": {"datum": -130, "type": "quantitative", "axis": null}}}
              ]
            }
          ]
        },
        {
          "title": {"text": "T1=0.02 – 0.04 s", "orient": "bottom", "anchor": "middle", "offset": 40, "dx": -1, "baseline": "alphabetic", "font": "Liberation Serif", "fontSize": 19, "fontWeight": "normal", "color": "#000000"},
          "vconcat": [
            {
              "width": 262, "height": 354,
              "title": {"text": "PSD - Pₓₓ(f) / Fₛ", "frame": "group", "anchor": "middle", "offset": -38, "baseline": "alphabetic", "zindex": 1, "font": "Liberation Sans", "fontSize": 15, "fontWeight": "normal", "color": "#000000"},
              "resolve": {"axis": {"x": "independent", "y": "independent"}},
              "layer": [
                {"data": {"values": [{}]}, "mark": {"type": "rect", "color": "#c8c8c8"}, "encoding": {"x": {"datum": -0.5723, "type": "quantitative", "scale": {"domain": [0, 2.205], "nice": false, "zero": false}, "axis": null}, "x2": {"datum": 2.3481}, "y": {"datum": -51.003, "type": "quantitative", "scale": {"domain": [-130, -60], "nice": false, "zero": false}, "axis": null}, "y2": {"datum": -141.172}}},
                {"data": {"values": [{}]}, "mark": {"type": "rule", "color": "#111111", "strokeWidth": 2}, "encoding": {"x": {"datum": -0.5723, "type": "quantitative", "axis": null}, "x2": {"datum": 2.3481}, "y": {"datum": -51.2, "type": "quantitative", "axis": null}}},
                {"data": {"values": [{}]}, "mark": {"type": "rule", "color": "#111111", "strokeWidth": 2}, "encoding": {"x": {"datum": -0.5723, "type": "quantitative", "axis": null}, "x2": {"datum": 2.3481}, "y": {"datum": -140.974, "type": "quantitative", "axis": null}}},
                {"data": {"values": [{}]}, "mark": {"type": "rect", "color": "#ffffff"}, "encoding": {"x": {"datum": 0, "type": "quantitative", "axis": {"orient": "top", "values": [0.5, 1, 1.5, 2], "labels": false, "title": null, "zindex": 1}}, "x2": {"datum": 2.205}, "y": {"datum": -60, "type": "quantitative", "axis": {"orient": "right", "values": [-120, -110, -100, -90, -80, -70], "labels": false, "title": null, "zindex": 1}}, "y2": {"datum": -130}}},
                {"data": {"name": "p2"}, "mark": {"type": "line", "color": "#0000ff", "strokeWidth": 1}, "encoding": {"x": {"field": "f", "type": "quantitative", "axis": {"orient": "bottom", "values": [0, 0.5, 1, 1.5, 2], "labelExpr": "datum.value + ''", "title": "Frequency", "zindex": 1}}, "y": {"field": "v", "type": "quantitative", "axis": {"orient": "left", "values": [-130, -120, -110, -100, -90, -80, -70, -60], "labelExpr": "datum.value + ''", "title": null, "zindex": 1}}}},
                {"data": {"name": "cursors"}, "transform": [{"filter": "datum.panel == 2"}], "mark": {"type": "rule", "color": "#ff22ff", "strokeWidth": 1}, "encoding": {"x": {"field": "f", "type": "quantitative", "axis": null}, "strokeDash": {"field": "style", "type": "nominal", "scale": {"domain": ["solid", "dashed"], "range": [[1, 0], [13, 5]]}, "legend": null}}},
                {"data": {"values": [{}]}, "mark": {"type": "text", "text": "x 10⁴", "align": "right", "baseline": "alphabetic", "dy": 48, "font": "Liberation Sans", "fontSize": 15, "color": "#000000"}, "encoding": {"x": {"datum": 2.205, "type": "quantitative", "axis": null}, "y": {"datum": -130, "type": "quantitative", "axis": null}}}
              ]
            }
          ]
        }
      ]
    },
    {
      "spacing": 140,
      "hconcat": [
        {
          "title": {"text": "T1=0.04 – 0.06 s", "orient": "bottom", "anchor": "middle", "offset": 31, "dx": 15, "baseline": "alphabetic", "font": "Liberation Serif", "fontSize": 19, "fontWeight": "normal", "color": "#000000"},
          "vconcat": [
            {
              "width": 262, "height": 354,
              "title": {"text": "PSD - Pₓₓ(f) / Fₛ", "frame": "group", "anchor": "middle", "offset": -37, "baseline": "alphabetic", "zindex": 1, "font": "Liberation Sans", "fontSize": 15, "fontWeight": "normal", "color": "#000000"},
              "resolve": {"axis": {"x": "independent", "y": "independent"}},
              "layer": [
                {"data": {"values": [{}]}, "mark": {"type": "rect", "color": "#c8c8c8"}, "encoding": {"x": {"datum": -0.5849, "type": "quantitative", "scale": {"domain": [0, 2.205], "nice": false, "zero": false}, "axis": null}, "x2": {"datum": 2.4449}, "y": {"datum": -40.96, "type": "quantitative", "scale": {"domain": [-130, -50], "nice": false, "zero": false}, "axis": null}, "y2": {"datum": -143.107}}},
                {"data": {"values": [{}]}, "mark": {"type": "rule", "color": "#111111", "strokeWidth": 2}, "encoding": {"x": {"datum": -0.5765, "type": "quantitative", "axis": null}, "y": {"datum": -40.96, "type": "quantitative", "axis": null}, "y2": {"datum": -143.107}}},
                {"data": {"values": [{}]}, "mark": {"type": "rule", "color": "#111111", "strokeWidth": 2}, "encoding": {"x": {"datum": -0.5849, "type": "quantitative", "axis": null}, "x2": {"datum": 2.4449}, "y": {"datum": -142.881, "type": "quantitative", "axis": null}}},
                {"data": {"values": [{}]}, "mark": {"type": "rect", "color": "#ffffff"}, "encoding": {"x": {"datum": 0, "type": "quantitative", "axis": {"orient": "top", "values": [0.5, 1, 1.5, 2], "labels": false, "title": null, "zindex": 1}}, "x2": {"datum": 2.205}, "y": {"datum": -50, "type": "quantitative", "axis": {"orient": "right", "values": [-120, -110, -100, -90, -80, -70, -60], "labels": false, "title": null, "zindex": 1}}, "y2": {"datum": -130}}},
                {"data": {"name": "p3"}, "mark": {"type": "line", "color": "#0000ff", "strokeWidth": 1}, "encoding": {"x": {"field": "f", "type": "quantitative", "axis": {"orient": "bottom", "values": [0, 0.5, 1, 1.5, 2], "labelExpr": "datum.value + ''", "title": "Frequency", "zindex": 1}}, "y": {"field": "v", "type": "quantitative", "axis": {"orient": "left", "values": [-130, -120, -110, -100, -90, -80, -70, -60, -50], "labelExpr": "datum.value + ''", "title": null, "zindex": 1}}}},
                {"data": {"name": "cursors"}, "transform": [{"filter": "datum.panel == 3"}], "mark": {"type": "rule", "color": "#ff22ff", "strokeWidth": 1}, "encoding": {"x": {"field": "f", "type": "quantitative", "axis": null}, "strokeDash": {"field": "style", "type": "nominal", "scale": {"domain": ["solid", "dashed"], "range": [[1, 0], [13, 5]]}, "legend": null}}},
                {"data": {"name": "circles"}, "transform": [{"filter": "datum.panel == 3"}], "mark": {"type": "point", "shape": "circle", "filled": false, "color": "#ff22ff", "size": 80, "strokeWidth": 1, "opacity": 1}, "encoding": {"x": {"field": "f", "type": "quantitative", "axis": null}, "y": {"field": "v", "type": "quantitative", "axis": null}}},
                {"data": {"values": [{}]}, "mark": {"type": "text", "text": "x 10⁴", "align": "right", "baseline": "alphabetic", "dy": 48, "font": "Liberation Sans", "fontSize": 15, "color": "#000000"}, "encoding": {"x": {"datum": 2.205, "type": "quantitative", "axis": null}, "y": {"datum": -130, "type": "quantitative", "axis": null}}}
              ]
            }
          ]
        },
        {
          "title": {"text": "T1=0.06 – 0.08 s", "orient": "bottom", "anchor": "middle", "offset": 33, "dx": -4, "baseline": "alphabetic", "font": "Liberation Serif", "fontSize": 19, "fontWeight": "normal", "color": "#000000"},
          "vconcat": [
            {
              "width": 262, "height": 354,
              "title": {"text": "PSD - Pₓₓ(f) / Fₛ", "frame": "group", "anchor": "middle", "offset": -37, "baseline": "alphabetic", "zindex": 1, "font": "Liberation Sans", "fontSize": 15, "fontWeight": "normal", "color": "#000000"},
              "resolve": {"axis": {"x": "independent", "y": "independent"}},
              "layer": [
                {"data": {"values": [{}]}, "mark": {"type": "rect", "color": "#c8c8c8"}, "encoding": {"x": {"datum": -0.5723, "type": "quantitative", "scale": {"domain": [0, 2.205], "nice": false, "zero": false}, "axis": null}, "x2": {"datum": 2.306}, "y": {"datum": -40.96, "type": "quantitative", "scale": {"domain": [-130, -50], "nice": false, "zero": false}, "axis": null}, "y2": {"datum": -142.655}}},
                {"data": {"values": [{}]}, "mark": {"type": "rule", "color": "#111111", "strokeWidth": 2}, "encoding": {"x": {"datum": -0.5723, "type": "quantitative", "axis": null}, "x2": {"datum": 2.306}, "y": {"datum": -142.429, "type": "quantitative", "axis": null}}},
                {"data": {"values": [{}]}, "mark": {"type": "rect", "color": "#ffffff"}, "encoding": {"x": {"datum": 0, "type": "quantitative", "axis": {"orient": "top", "values": [0.5, 1, 1.5, 2], "labels": false, "title": null, "zindex": 1}}, "x2": {"datum": 2.205}, "y": {"datum": -50, "type": "quantitative", "axis": {"orient": "right", "values": [-120, -110, -100, -90, -80, -70, -60], "labels": false, "title": null, "zindex": 1}}, "y2": {"datum": -130}}},
                {"data": {"name": "p4"}, "mark": {"type": "line", "color": "#0000ff", "strokeWidth": 1}, "encoding": {"x": {"field": "f", "type": "quantitative", "axis": {"orient": "bottom", "values": [0, 0.5, 1, 1.5, 2], "labelExpr": "datum.value + ''", "title": "Frequency", "zindex": 1}}, "y": {"field": "v", "type": "quantitative", "axis": {"orient": "left", "values": [-130, -120, -110, -100, -90, -80, -70, -60, -50], "labelExpr": "datum.value + ''", "title": null, "zindex": 1}}}},
                {"data": {"name": "cursors"}, "transform": [{"filter": "datum.panel == 4"}], "mark": {"type": "rule", "color": "#ff22ff", "strokeWidth": 1}, "encoding": {"x": {"field": "f", "type": "quantitative", "axis": null}, "strokeDash": {"field": "style", "type": "nominal", "scale": {"domain": ["solid", "dashed"], "range": [[1, 0], [13, 5]]}, "legend": null}}},
                {"data": {"name": "circles"}, "transform": [{"filter": "datum.panel == 4"}], "mark": {"type": "point", "shape": "circle", "filled": false, "color": "#ff22ff", "size": 80, "strokeWidth": 1, "opacity": 1}, "encoding": {"x": {"field": "f", "type": "quantitative", "axis": null}, "y": {"field": "v", "type": "quantitative", "axis": null}}},
                {"data": {"values": [{}]}, "mark": {"type": "text", "text": "x 10⁴", "align": "right", "baseline": "alphabetic", "dy": 48, "font": "Liberation Sans", "fontSize": 15, "color": "#000000"}, "encoding": {"x": {"datum": 2.205, "type": "quantitative", "axis": null}, "y": {"datum": -130, "type": "quantitative", "axis": null}}}
              ]
            }
          ]
        }
      ]
    }
  ]
}
